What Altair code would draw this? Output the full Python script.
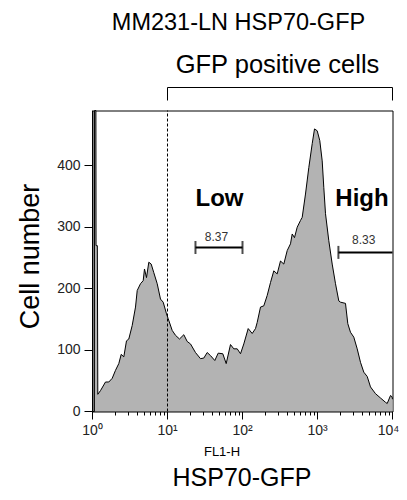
import altair as alt
import pandas as pd

FONT = "Liberation Sans"

# Histogram trace (FL1-H channel value, cell count)
fl1h = [1.06, 1.065, 1.11, 1.115, 1.16, 1.177, 1.278, 1.49, 1.649, 1.831,
        2.026, 2.242, 2.414, 2.615, 2.84, 3.048, 3.383, 3.744, 3.945, 4.365,
        4.742, 4.935, 5.248, 5.633, 6.063, 6.567, 7.291, 8.066, 8.763, 9.698,
        10.22, 11.55, 12.79, 14.45, 16.5, 18.31, 20.26, 23.62, 27.54, 30.48,
        33.83, 37.44, 42.73, 47.42, 54.62, 60.63, 69.18, 76.56, 85.01, 94.05,
        104.1, 119.1, 134.7, 149.1, 157.0, 173.8, 192.3, 213.5, 236.3, 261.5,
        290.2, 321.1, 355.3, 394.5, 436.5, 460.0, 493.5, 536.2, 593.3, 625.2,
        691.8, 765.6, 850.0, 912.0, 990.8, 1073, 1155, 1213, 1279, 1415,
        1570, 1738, 1923, 2026, 2362, 2535, 2754, 3048, 3383, 3744,
        4143, 4600, 5091, 5934, 6918, 8066, 8500, 9404, 9847, 10000]
counts = [0, 490, 490, 270, 270, 28, 34, 48, 48, 54,
          67, 78, 93, 89, 115, 118, 140, 170, 197, 208,
          213, 232, 218, 243, 240, 226, 208, 183, 178, 159,
          151, 132, 124, 118, 125, 114, 110, 96, 86, 87,
          96, 91, 83, 95, 94, 78, 109, 102, 102, 94,
          110, 135, 127, 135, 145, 170, 172, 189, 210, 229,
          224, 245, 240, 262, 273, 289, 283, 300, 311, 316,
          354, 397, 436, 460, 457, 441, 408, 365, 322, 278,
          240, 208, 180, 178, 176, 143, 129, 121, 102, 80,
          64, 57, 40, 29, 22, 15, 13, 26, 24, 20]

# Axis ticks
x_ticks = [1, 2, 3, 4, 5, 6, 7, 8, 9,
           10, 20, 30, 40, 50, 60, 70, 80, 90,
           100, 200, 300, 400, 500, 600, 700, 800, 900,
           1000, 2000, 3000, 4000, 5000, 6000, 7000, 8000, 9000, 10000]
y_ticks = list(range(0, 476, 25))

# Gates
gate_start = [23.6, 1900]
gate_end = [100, 10000]
gate_level = [267, 259]
gate_pct = ["8.37", "8.33"]
gate_pct_x = [45, 4140]
gate_pct_y = [278, 273]
cap_x = [23.6, 100, 1900]
cap_y = [267, 267, 259]
gate_names = ["Low", "High"]
gate_name_x = [49.4, 3920]
gate_name_y = [335, 335]

threshold = [10]
positive_range = [10, 10000]

hist = pd.DataFrame({"fl1h": fl1h, "count": counts})
gates = pd.DataFrame({"x": gate_start, "x2": gate_end, "y": gate_level})
pct = pd.DataFrame({"x": gate_pct_x, "y": gate_pct_y, "t": gate_pct})
caps = pd.DataFrame({"x": cap_x, "y": cap_y})
names = pd.DataFrame({"x": gate_name_x, "y": gate_name_y, "t": gate_names})
thr = pd.DataFrame({"x": threshold, "y": [0], "y2": [490]})
bracket_top = pd.DataFrame({"x": [positive_range[0]], "x2": [positive_range[1]]})
bracket_sides = pd.DataFrame({"x": positive_range})

x_label_expr = ("datum.value == 1 ? '10\u2070' : datum.value == 10 ? '10\u00b9' : "
                "datum.value == 100 ? '10\u00b2' : datum.value == 1000 ? '10\u00b3' : "
                "datum.value == 10000 ? '10\u2074' : ''")

x_enc = alt.X("fl1h:Q",
              scale=alt.Scale(type="log", domain=[1, 10000]),
              axis=alt.Axis(values=x_ticks, labelExpr=x_label_expr, grid=False,
                            tickSize={"condition": {"test": "indexof([1,10,100,1000,10000], datum.value) >= 0", "value": 8}, "value": 4},
                            labelOffset={"condition": {"test": "datum.value == 10000", "value": -4}, "value": 0},
                            labelFont=FONT, labelFontSize=14, labelColor="#222",
                            labelPadding=4, labelOverlap=False, labelFlush=False,
                            domainColor="black", tickColor="black", translate=0),
              title=None)
y_enc = alt.Y("count:Q",
              scale=alt.Scale(domain=[0, 490], nice=False),
              axis=alt.Axis(values=y_ticks, grid=False,
                            labelExpr="datum.value % 100 === 0 ? datum.label : ''",
                            tickSize={"condition": {"test": "datum.value % 100 === 0", "value": 8}, "value": 4},
                            labelFont=FONT, labelFontSize=14, labelColor="#222",
                            labelPadding=4, labelOverlap=False, labelFlush=False,
                            domainColor="black", tickColor="black", translate=0),
              title=None)

area = alt.Chart(hist).mark_area(color="#b3b3b3", interpolate="linear").encode(x=x_enc, y=y_enc)
line = alt.Chart(hist).mark_line(color="black", strokeWidth=1, interpolate="linear").encode(
    x=alt.X("fl1h:Q", title=None), y=alt.Y("count:Q", title=None))

thr_rule = alt.Chart(thr).mark_rule(color="black", strokeDash=[3, 2], strokeWidth=1).encode(
    x=alt.X("x:Q", title=None), y=alt.Y("y:Q", title=None), y2="y2:Q")

gate_rule = alt.Chart(gates).mark_rule(color="black", strokeWidth=2).encode(
    x=alt.X("x:Q", title=None), x2="x2:Q", y=alt.Y("y:Q", title=None))
cap_tick = alt.Chart(caps).mark_tick(color="black", orient="vertical", size=13, thickness=2).encode(
    x=alt.X("x:Q", title=None), y=alt.Y("y:Q", title=None))
pct_text = alt.Chart(pct).mark_text(font=FONT, fontSize=12, color="#333", baseline="alphabetic").encode(
    x=alt.X("x:Q", title=None), y=alt.Y("y:Q", title=None), text="t:N")
name_text = alt.Chart(names).mark_text(font=FONT, fontSize=24, fontWeight="bold", color="black",
                                       baseline="alphabetic").encode(
    x=alt.X("x:Q", title=None), y=alt.Y("y:Q", title=None), text="t:N")

br_top = alt.Chart(bracket_top).mark_rule(color="black", strokeWidth=1).encode(
    x=alt.X("x:Q", title=None), x2="x2:Q", y=alt.value(-23))
br_sides = alt.Chart(bracket_sides).mark_rule(color="black", strokeWidth=1).encode(
    x=alt.X("x:Q", title=None), y=alt.value(-23), y2=alt.value(-10))


def label(text, x, y, size, angle=0):
    return alt.Chart(pd.DataFrame({"t": [text]})).mark_text(
        font=FONT, fontSize=size, color="black", baseline="alphabetic", align="center", angle=angle
    ).encode(text="t:N", x=alt.value(x), y=alt.value(y))


title_main = label("MM231-LN HSP70-GFP", 146, -81, 23.5)
title_sub = label("GFP positive cells", 185, -38, 25.5)
x_small = label("FL1-H", 129.5, 345, 13)
x_big = label("HSP70-GFP", 149.5, 375, 25)
y_title = label("Cell number", -54, 146, 27, angle=270)

chart = alt.layer(
    area, line, thr_rule, gate_rule, cap_tick, pct_text, name_text,
    br_top, br_sides, title_main, title_sub, x_small, x_big, y_title
).properties(
    width=300, height=301,
    autosize=alt.AutoSizeParams(type="none"),
    padding={"left": 84.5, "top": 102.5, "right": 6.5, "bottom": 80.5},
).configure_view(stroke="black", strokeWidth=1)

chart.save("out.html", embed_options={"renderer": "svg", "actions": False})
